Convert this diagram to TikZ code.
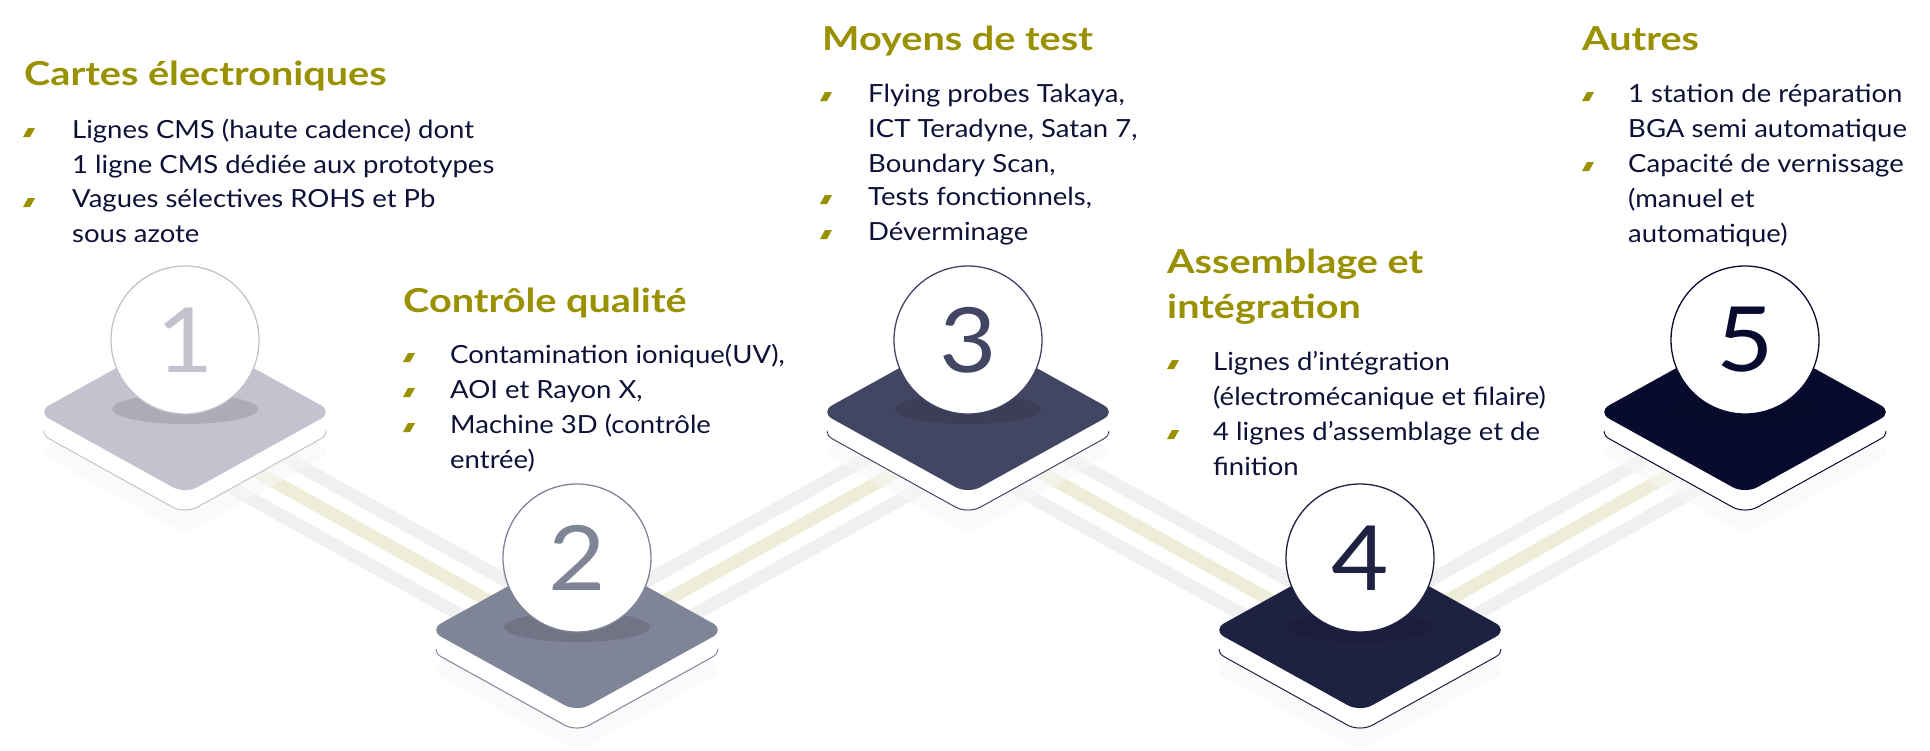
\documentclass[tikz,border=0pt]{standalone}
\usepackage{fontspec}
\setmainfont{Lato}[FakeStretch=1.10]
\newfontfamily\headfamily{Lato}[FakeStretch=1.2]
\usetikzlibrary{positioning}

\definecolor{olivetitle}{RGB}{154,145,0}
\definecolor{navytext}{RGB}{14,16,54}
\definecolor{railgrey}{RGB}{240,240,240}
\definecolor{railolive}{RGB}{237,237,216}
\definecolor{stepA}{RGB}{194,195,206}
\definecolor{stepB}{RGB}{128,132,151}
\definecolor{stepC}{RGB}{67,70,98}
\definecolor{stepD}{RGB}{31,33,66}
\definecolor{stepE}{RGB}{8,11,46}

\newcommand{\headfont}{\headfamily\fontsize{33}{45}\selectfont\bfseries}
\newcommand{\entryfont}{\fontsize{25}{34.7}\selectfont}
\newcommand{\numfont}{\fontsize{90}{90}\selectfont}

% one isometric step: name, centre of top face, colour, number
\newcommand{\platform}[5]{%
  \fill[reflect] (#2-148,#3+40) -- (#2,#3-42) -- (#2+148,#3+40) -- (#2,#3+122) -- cycle;
  \draw[#4, line width=1pt, fill=white, rounded corners=14pt] (#2-148,#3+20) -- (#2,#3-62) -- (#2+148,#3+20) -- (#2,#3+102) -- cycle;
  \foreach \d in {1,...,18}
    \fill[white, rounded corners=14pt] (#2-148,#3+\d) -- (#2,#3-82+\d) -- (#2+148,#3+\d) -- (#2,#3+82+\d) -- cycle;
  \fill[#4, rounded corners=14pt] (#2-148,#3) -- (#2,#3-82) -- (#2+148,#3) -- (#2,#3+82) -- cycle;
  \fill[#4!88!black] (#2,#3-3) ellipse [x radius=73, y radius=15];
  \node[disc=#4] (#1) at (#2,#3-72) {#5};
}

\begin{document}
\begin{tikzpicture}[
    x=1pt, y=-1pt,
    head/.style={anchor=base west, inner sep=0pt, text=olivetitle, font=\headfont, align=left},
    entry/.style={anchor=base west, inner sep=0pt, text=navytext, font=\entryfont, align=left},
    disc/.style={circle, draw=#1, fill=white, line width=1.3pt, minimum size=148pt, inner sep=0pt, text=#1, font=\numfont},
    rail/.style={line width=13pt, railgrey},
    reflect/.style={fill=black!3, fill opacity=0.6, rounded corners=14pt},
    tick/.pic={\fill[olivetitle] (0,-1) -- (7,-1) -- (12,-10) -- (5,-10) -- cycle;}
]
    \useasboundingbox (0,0) rectangle (1930,750);

    % ground points of the steps
    \coordinate (g1) at (185,432);
    \coordinate (g2) at (577,650);
    \coordinate (g3) at (968,432);
    \coordinate (g4) at (1360,650);
    \coordinate (g5) at (1745,432);

    \foreach \a/\b in {g1/g2, g2/g3, g3/g4, g4/g5} {
        \draw[rail] ([yshift=30pt]\a) -- ([yshift=30pt]\b);
        \draw[rail] ([yshift=-30pt]\a) -- ([yshift=-30pt]\b);
        \draw[rail, railolive] (\a) -- (\b);
    }

    \platform{p1}{185}{412}{stepA}{1}
    \platform{p2}{577}{630}{stepB}{2}
    \platform{p3}{968}{412}{stepC}{3}
    \platform{p4}{1360}{630}{stepD}{4}
    \platform{p5}{1745}{412}{stepE}{5}

    % Cartes electroniques (nodes sit on the baseline of their last line)
    \node[head] (t1) at (24,85) {Cartes électroniques};
    \pic at (23,138) {tick};
    \pic at (23,208) {tick};
    \node[entry] (e1a) at (72,173) {Lignes CMS (haute cadence) dont\\1 ligne CMS dédiée aux prototypes};
    \node[entry] (e1b) at (72,242) {Vagues sélectives ROHS et Pb\\sous azote};

    % Controle qualite
    \node[head] (t2) at (403,312) {Contrôle qualité};
    \foreach \yy in {363,398,433} \pic at (403,\yy) {tick};
    \node[entry] (e2a) at (450,363) {Contamination ionique(UV),};
    \node[entry] (e2b) at (450,398) {AOI et Rayon X,};
    \node[entry] (e2c) at (450,468) {Machine 3D (contrôle\\entrée)};

    % Moyens de test
    \node[head] (t3) at (822,50) {Moyens de test};
    \foreach \yy in {102,205,240} \pic at (820,\yy) {tick};
    \node[entry] (e3a) at (868,172) {Flying probes Takaya,\\ICT Teradyne, Satan 7,\\Boundary Scan,};
    \node[entry] (e3b) at (868,205) {Tests fonctionnels,};
    \node[entry] (e3c) at (868,240) {Déverminage};

    % Assemblage et integration
    \node[head] (t4) at (1167,318) {Assemblage et\\intégration};
    \foreach \yy in {370,440} \pic at (1167,\yy) {tick};
    \node[entry] (e4a) at (1213,405) {Lignes d’intégration\\(électromécanique et filaire)};
    \node[entry] (e4b) at (1213,475) {4 lignes d’assemblage et de\\finition};

    % Autres
    \node[head] (t5) at (1582,50) {Autres};
    \foreach \yy in {102,172} \pic at (1582,\yy) {tick};
    \node[entry] (e5a) at (1628,137) {1 station de réparation\\BGA semi automatique};
    \node[entry] (e5b) at (1628,242) {Capacité de vernissage\\(manuel et\\automatique)};
\end{tikzpicture}
\end{document}
